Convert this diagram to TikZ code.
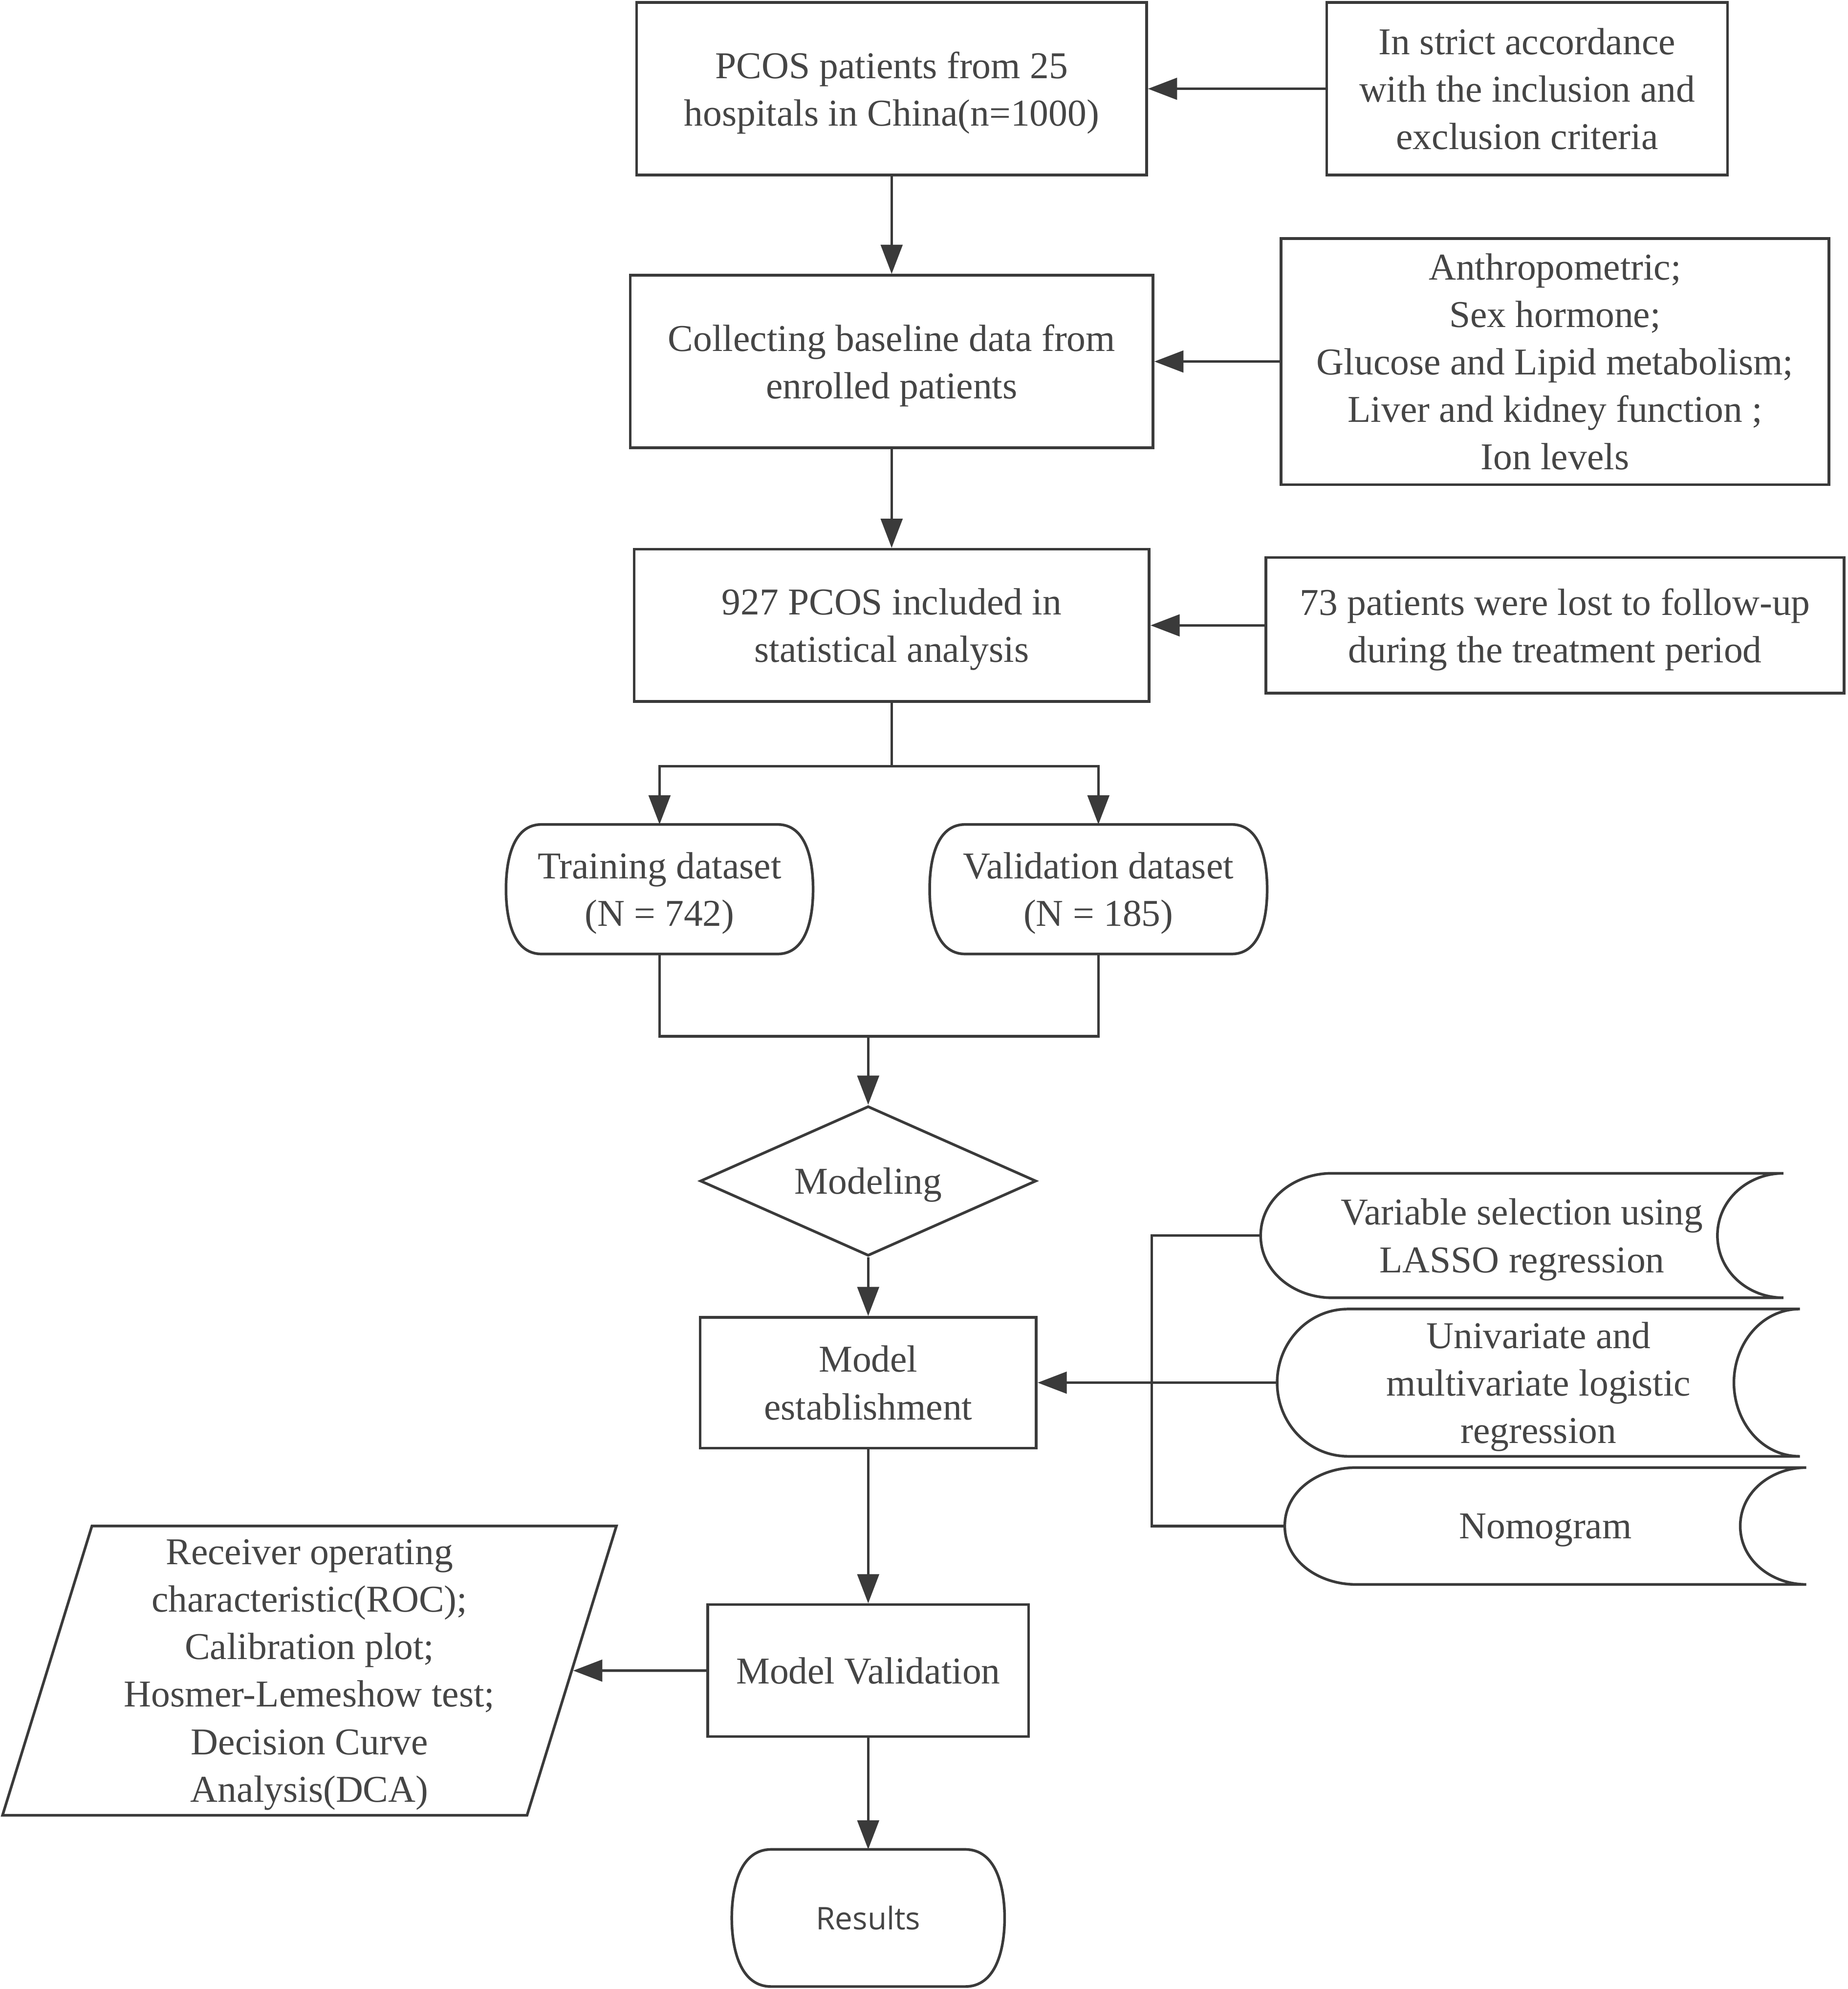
\documentclass[tikz,border=0pt]{standalone}
\usepackage{fontspec}
\setmainfont{Liberation Serif}
\newfontfamily\resultsfont{Open Sans}
\usetikzlibrary{shapes.geometric,arrows.meta,calc}

\definecolor{linegray}{HTML}{3A3A3A}
\definecolor{textgray}{HTML}{454545}

\tikzset{
    flowline/.style={draw=linegray, line width=1.2pt},
    arr/.style={flowline, -{Triangle[length=4.6mm,width=3.4mm]}},
    box/.style={flowline, rectangle, align=center, text=textgray, inner sep=1mm,
        text depth=-2.5pt, font=\fontsize{17}{21.3}\selectfont},
    holder/.style={box, draw=none},
    decision/.style={box, diamond, aspect=2.25, inner sep=0pt},
    datain/.style={box, trapezium, trapezium left angle=72, trapezium right angle=108,
        trapezium stretches body},
}

% bulging sides (datasets, results)
\newcommand{\capsuleoutline}[2]{%
    \draw[flowline] ($(#1.north west)+(#2,0)$) -- ($(#1.north east)+(-#2,0)$)
        to[out=0,in=90] (#1.east) to[out=-90,in=0] ($(#1.south east)+(-#2,0)$)
        -- ($(#1.south west)+(#2,0)$)
        to[out=180,in=-90] (#1.west) to[out=90,in=180] ($(#1.north west)+(#2,0)$);}

% stored data shape: round left side, hollow right side
\newcommand{\storedoutline}[3]{%
    \draw[flowline] ($(#1.north west)+(#2,0)$) -- (#1.north east)
        to[out=180,in=90] ($(#1.east)+(-#3,0)$) to[out=-90,in=180] (#1.south east)
        -- ($(#1.south west)+(#2,0)$)
        to[out=180,in=-90] (#1.west) to[out=90,in=180] ($(#1.north west)+(#2,0)$);}

\begin{document}
\begin{tikzpicture}[x=0.2mm, y=-0.2mm]
    \useasboundingbox (0,0) rectangle (1457,1568);

    % main column
    \node[box, minimum width=80.4mm, minimum height=27.2mm] (pcos) at (703,70)
        {PCOS patients from 25\\hospitals in China(n=1000)};
    \node[box, minimum width=82.4mm, minimum height=27.2mm] (collect) at (703,285)
        {Collecting baseline data from\\enrolled patients};
    \node[box, minimum width=81.2mm, minimum height=24mm] (incl) at (703,493)
        {927 PCOS included in\\statistical analysis};

    % side boxes
    \node[box, minimum width=63.2mm, minimum height=27.2mm] (crit) at (1204,70)
        {In strict accordance\\with the inclusion and\\exclusion criteria};
    \node[box, minimum width=86.4mm, minimum height=38.8mm] (list) at (1226,285)
        {Anthropometric;\\Sex hormone;\\Glucose and Lipid metabolism;\\Liver and kidney function ;\\Ion levels};
    \node[box, minimum width=91.2mm, minimum height=21.4mm] (lost) at (1226,493)
        {73 patients were lost to follow-up\\during the treatment period};

    \draw[arr] (crit) -- (pcos);
    \draw[arr] (pcos) -- (collect);
    \draw[arr] (list) -- (collect);
    \draw[arr] (collect) -- (incl);
    \draw[arr] (lost) -- (incl);

    % split into the two datasets
    \node[holder, minimum width=48mm, minimum height=20mm] (train) at (520,701)
        {Training dataset\\(N = 742)};
    \node[holder, minimum width=52.8mm, minimum height=20mm] (valid) at (866,701)
        {Validation dataset\\(N = 185)};
    \capsuleoutline{train}{5.6mm}
    \capsuleoutline{valid}{5.6mm}

    \coordinate (split) at (703,604);
    \draw[flowline] (incl.south) -- (split);
    \draw[arr] (split) -| (train.north);
    \draw[arr] (split) -| (valid.north);

    % modeling
    \node[decision, minimum width=53mm, minimum height=23.6mm] (model) at (684.5,931) {Modeling};
    \coordinate (merge) at (684.5,817);
    \draw[flowline] (train.south) |- (merge) -| (valid.south);
    \draw[arr] (merge) -- (model.north);

    \node[box, minimum width=53mm, minimum height=20.6mm] (estab) at (684.5,1090)
        {Model\\establishment};
    \draw[arr] (model) -- (estab);

    % methods used for the model
    \node[holder, minimum width=82mm, minimum height=19.2mm] (vs) at (1200,974)
        {Variable selection using\\LASSO regression};
    \node[holder, minimum width=82mm, minimum height=22.8mm] (uni) at (1213,1090)
        {Univariate and\\multivariate logistic\\regression};
    \node[holder, minimum width=81.8mm, minimum height=18mm] (nomo) at (1218.5,1203)
        {Nomogram};
    \storedoutline{vs}{11.2mm}{10.4mm}
    \storedoutline{uni}{11.2mm}{10.4mm}
    \storedoutline{nomo}{11.2mm}{10.4mm}

    \coordinate (bustop) at (908,974);
    \coordinate (busbot) at (908,1203);
    \draw[flowline] (vs.west) -- (bustop) -- (busbot) -- (nomo.west);
    \draw[arr] (uni.west) -- (estab.east);

    % validation
    \node[box, minimum width=50.6mm, minimum height=20.8mm] (mval) at (684.5,1317)
        {Model Validation};
    \draw[arr] (estab) -- (mval);

    \node[datain, minimum width=96.8mm, minimum height=45.6mm] (roc) at (244,1317)
        {Receiver operating\\characteristic(ROC);\\Calibration plot;\\Hosmer-Lemeshow test;\\Decision Curve\\Analysis(DCA)};
    \draw[arr] (mval) -- (roc);

    \node[holder, minimum width=42.6mm, minimum height=21.2mm,
        font=\resultsfont\fontsize{14}{17}\selectfont] (results) at (684.5,1512) {Results};
    \capsuleoutline{results}{6.2mm}
    \draw[arr] (mval) -- (results);
\end{tikzpicture}
\end{document}
